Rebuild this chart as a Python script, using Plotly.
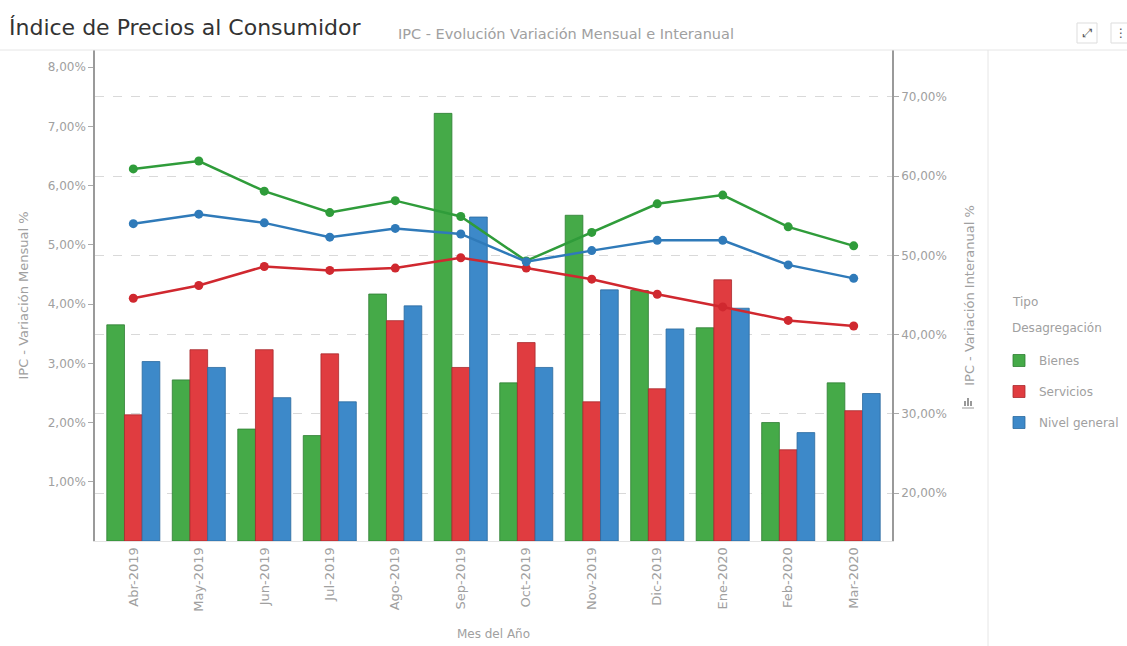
import plotly.graph_objects as go

meses = ["Abr-2019", "May-2019", "Jun-2019", "Jul-2019", "Ago-2019", "Sep-2019",
         "Oct-2019", "Nov-2019", "Dic-2019", "Ene-2020", "Feb-2020", "Mar-2020"]

# Variación mensual % (barras, eje izquierdo)
mensual_bienes = [3.65, 2.72, 1.89, 1.78, 4.17, 7.22, 2.67, 5.50, 4.23, 3.60, 2.00, 2.67]
mensual_servicios = [2.13, 3.23, 3.23, 3.16, 3.72, 2.93, 3.35, 2.35, 2.57, 4.41, 1.54, 2.20]
mensual_general = [3.03, 2.93, 2.42, 2.35, 3.97, 5.47, 2.93, 4.24, 3.58, 3.93, 1.83, 2.49]

# Variación interanual % (líneas, eje derecho)
interanual_bienes = [60.9, 61.9, 58.1, 55.4, 56.9, 54.9, 49.3, 52.9, 56.5, 57.6, 53.6, 51.2]
interanual_servicios = [44.6, 46.2, 48.6, 48.1, 48.4, 49.7, 48.4, 47.0, 45.1, 43.5, 41.8, 41.1]
interanual_general = [54.0, 55.2, 54.1, 52.3, 53.4, 52.7, 49.2, 50.6, 51.9, 51.9, 48.8, 47.1]

left_ticks = [1, 2, 3, 4, 5, 6, 7, 8]
left_labels = ["1,00%", "2,00%", "3,00%", "4,00%", "5,00%", "6,00%", "7,00%", "8,00%"]
right_ticks = [20, 30, 40, 50, 60, 70]
right_labels = ["20,00%", "30,00%", "40,00%", "50,00%", "60,00%", "70,00%"]

FONT = "DejaVu Sans"
GRAY = "#a0a0a0"

# pixel helpers for layout decorations (plot area: x 95..892, y 50..541)
def px(x):
    return (x - 95) / 797

def py(y):
    return (541 - y) / 491

fig = go.Figure()

bar_specs = [
    ("Bienes", mensual_bienes, "#45aa48", "#2f7e33"),
    ("Servicios", mensual_servicios, "#e03c40", "#a82a2d"),
    ("Nivel general", mensual_general, "#3d89c9", "#2b6a9e"),
]
for name, vals, col, edge in bar_specs:
    fig.add_trace(go.Bar(
        x=meses, y=vals, name=name, legendgroup=name,
        marker=dict(color=col, line=dict(color=edge, width=0.8)),
        yaxis="y",
    ))

line_specs = [
    ("Bienes", interanual_bienes, "#2f9c3a"),
    ("Servicios", interanual_servicios, "#d0282f"),
    ("Nivel general", interanual_general, "#2f7ab9"),
]
for name, vals, col in line_specs:
    fig.add_trace(go.Scatter(
        x=meses, y=vals, name=name, legendgroup=name, showlegend=False,
        mode="lines+markers",
        line=dict(color=col, width=2.5),
        marker=dict(color=col, size=9),
        yaxis="y2",
    ))

fig.update_layout(
    width=1127, height=646,
    margin=dict(l=95, r=235, t=50, b=105, autoexpand=False),
    paper_bgcolor="white", plot_bgcolor="white",
    font=dict(family=FONT, size=12, color=GRAY),
    barmode="group", bargap=0.19, bargroupgap=0,
    xaxis=dict(
        range=[-0.585, 11.585], automargin=False,
        tickangle=-90, tickfont=dict(size=13, color=GRAY),
        showline=True, linecolor="#e3e3e3", linewidth=1,
        ticks="", showgrid=False,
        title=dict(text="Mes del Año", font=dict(size=12, color=GRAY), standoff=18),
    ),
    yaxis=dict(
        range=[0, 8.29], automargin=False,
        tickvals=left_ticks, ticktext=left_labels,
        showgrid=False, zeroline=False,
        showline=True, linecolor="#9a9a9a", linewidth=1.5,
        ticks="outside", ticklen=5, tickcolor="#aaaaaa",
        tickfont=dict(size=12, color=GRAY),
        title=dict(text="IPC - Variación Mensual %", font=dict(size=13, color=GRAY), standoff=16),
    ),
    yaxis2=dict(
        range=[13.98, 75.9], overlaying="y", side="right", automargin=False,
        tickvals=right_ticks, ticktext=right_labels,
        showgrid=True, gridcolor="#d9d9d9", griddash="dash", gridwidth=1,
        zeroline=False,
        showline=True, linecolor="#9a9a9a", linewidth=1.5,
        ticks="outside", ticklen=5, tickcolor="#aaaaaa",
        tickfont=dict(size=12, color=GRAY),
        title=dict(text="IPC - Variación Interanual %", font=dict(size=13, color=GRAY), standoff=19),
    ),
    legend=dict(
        x=px(999), y=py(346), xanchor="left", yanchor="top",
        font=dict(size=12, color=GRAY),
        tracegroupgap=12, bgcolor="rgba(0,0,0,0)",
    ),
    showlegend=True,
)

# Legend title
fig.add_annotation(text="Tipo", xref="paper", yref="paper", x=px(1010), y=py(302),
                   xanchor="left", yanchor="middle", showarrow=False,
                   font=dict(family=FONT, size=12, color=GRAY))
fig.add_annotation(text="Desagregación", xref="paper", yref="paper", x=px(1010), y=py(328),
                   xanchor="left", yanchor="middle", showarrow=False,
                   font=dict(family=FONT, size=12, color=GRAY))

# Header title and subtitle
fig.add_annotation(text="Índice de Precios al Consumidor", xref="paper", yref="paper",
                   x=px(7), y=py(28), xanchor="left", yanchor="middle",
                   showarrow=False, font=dict(family=FONT, size=22, color="#333333"))
fig.add_annotation(text="IPC - Evolución Variación Mensual e Interanual", xref="paper", yref="paper",
                   x=px(396), y=py(34), xanchor="left", yanchor="middle",
                   showarrow=False, font=dict(family=FONT, size=14.5, color="#a0a0a0"))

# Header separator and legend separator
fig.add_shape(type="line", xref="paper", yref="paper",
              x0=px(0), x1=px(1127), y0=py(50), y1=py(50),
              line=dict(color="#e6e6e6", width=1))
fig.add_shape(type="line", xref="paper", yref="paper",
              x0=px(988), x1=px(988), y0=py(50), y1=py(646),
              line=dict(color="#e6e6e6", width=1))

# Small chart icon below the right axis title
for bx0, bx1, btop in [(964, 966, 401), (967, 969, 398), (970, 972, 401)]:
    fig.add_shape(type="rect", xref="paper", yref="paper",
                  x0=px(bx0), x1=px(bx1), y0=py(406), y1=py(btop),
                  line=dict(width=0), fillcolor="#999999")
fig.add_shape(type="line", xref="paper", yref="paper",
              x0=px(962), x1=px(974), y0=py(408), y1=py(408),
              line=dict(color="#999999", width=1))

# Top-right icons
for x0, x1, sym in [(1077, 1097, "⤢"), (1111, 1130, "⋮")]:
    fig.add_shape(type="rect", xref="paper", yref="paper",
                  x0=px(x0), x1=px(x1), y0=py(43), y1=py(23),
                  line=dict(color="#dddddd", width=1), fillcolor="white")
    fig.add_annotation(text=sym, xref="paper", yref="paper",
                       x=px((x0 + x1) / 2), y=py(33), xanchor="center", yanchor="middle",
                       showarrow=False, font=dict(family=FONT, size=12, color="#555555"))

fig.write_html("out.html")
